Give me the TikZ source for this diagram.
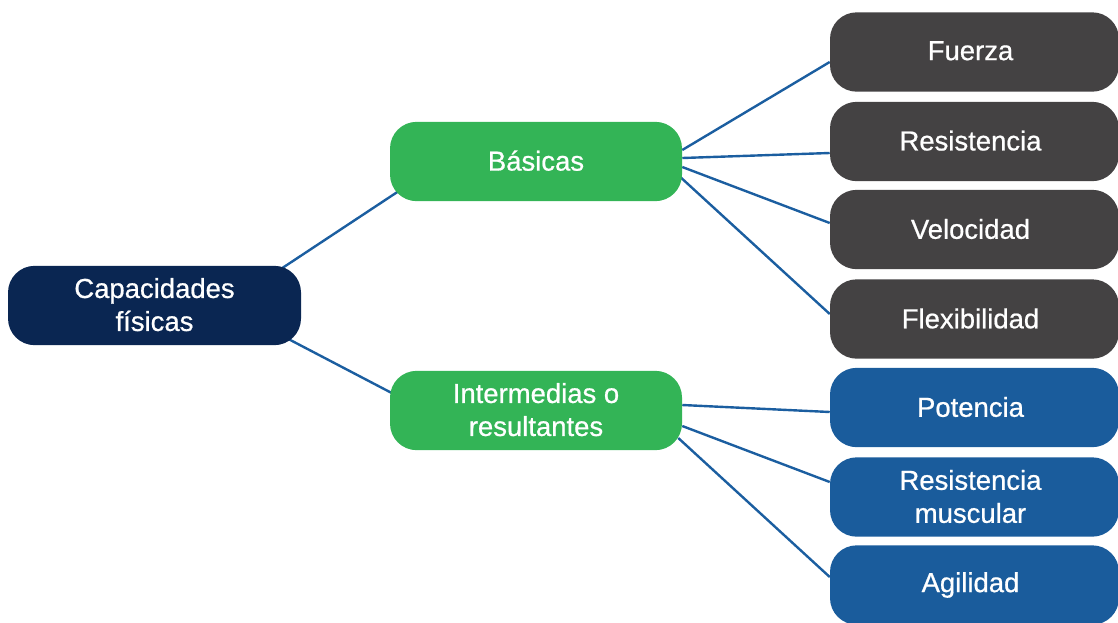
\documentclass[tikz,border=0pt]{standalone}
\usepackage{fontspec}
\setmainfont[FakeBold=0.7]{Liberation Sans}
\usetikzlibrary{calc}
\pgfdeclarelayer{back}
\pgfsetlayers{back,main}
\definecolor{navy}{HTML}{0A2652}
\definecolor{leaf}{HTML}{33B456}
\definecolor{slate}{HTML}{444243}
\definecolor{ocean}{HTML}{1A5C9C}
\definecolor{wire}{HTML}{1B5EA0}
\begin{document}
\begin{tikzpicture}[x=0.75pt,y=-0.75pt,
  box/.style={rounded corners=20pt, draw=none, text=white, align=center,
    font=\fontsize{20.6}{24.75}\selectfont, inner sep=0pt,
    minimum height=59.5pt},
  rootbox/.style={box, fill=navy, minimum width=219.75pt},
  midbox/.style={box, fill=leaf, minimum width=219pt},
  greybox/.style={box, fill=slate, minimum width=216.75pt},
  bluebox/.style={box, fill=ocean, minimum width=216.75pt},
  link/.style={draw=wire, line width=1.8pt}]
\useasboundingbox (0,0) rectangle (1118,622);
% nodes
\node[rootbox] (root) at (154.5,305.5) {\raisebox{1.5pt}{Capacidades}\\\raisebox{1.5pt}{físicas}};
\node[midbox] (bas) at (536,161.5) {\raisebox{1.5pt}{Básicas}};
\node[midbox] (int) at (536,410.5) {\raisebox{1.5pt}{Intermedias o}\\\raisebox{1.5pt}{resultantes}};
\node[greybox] (fue) at (974.5,52) {\hspace*{-6pt}\raisebox{2pt}{Fuerza}};
\node[greybox] (res) at (974.5,141.5) {\hspace*{-6pt}\raisebox{1.5pt}{Resistencia}};
\node[greybox] (vel) at (974.5,229.5) {\hspace*{-6pt}\raisebox{1pt}{Velocidad}};
\node[greybox] (fle) at (974.5,319) {\hspace*{-6pt}\raisebox{1pt}{Flexibilidad}};
\node[bluebox] (pot) at (974.5,407.5) {\hspace*{-6pt}\raisebox{1pt}{Potencia}};
\node[bluebox] (rmu) at (974.5,497) {\hspace*{-6pt}\raisebox{1pt}{Resistencia}\\\hspace*{-6pt}\raisebox{1pt}{muscular}};
\node[bluebox] (agi) at (974.5,585) {\hspace*{-6pt}\raisebox{1pt}{Agilidad}};
% connectors (behind nodes)
\begin{pgfonlayer}{back}
\draw[link] ($(root.north east)+(-19,2.5)$) -- ($(bas.south west)+(10,-11)$);
\draw[link] ($(root.south east)+(-13,-6.5)$) -- ($(int.west)+(2,-17.5)$);
\draw[link] ($(bas.east)+(0,-11.5)$) -- ($(fue.west)+(0,10)$);
\draw[link] ($(bas.east)+(0,-3.5)$) -- ($(res.west)+(0,11.5)$);
\draw[link] ($(bas.east)+(0,5.5)$) -- ($(vel.west)+(0,-6.5)$);
\draw[link] ($(bas.east)+(-2,15.5)$) -- ($(fle.west)+(0,-5)$);
\draw[link] ($(int.east)+(0,-5.5)$) -- ($(pot.west)+(0,4.5)$);
\draw[link] ($(int.east)+(0,15.5)$) -- ($(rmu.west)+(0,-15)$);
\draw[link] ($(int.east)+(-4,27.5)$) -- ($(agi.west)+(0,-8)$);
\end{pgfonlayer}
\end{tikzpicture}
\end{document}
